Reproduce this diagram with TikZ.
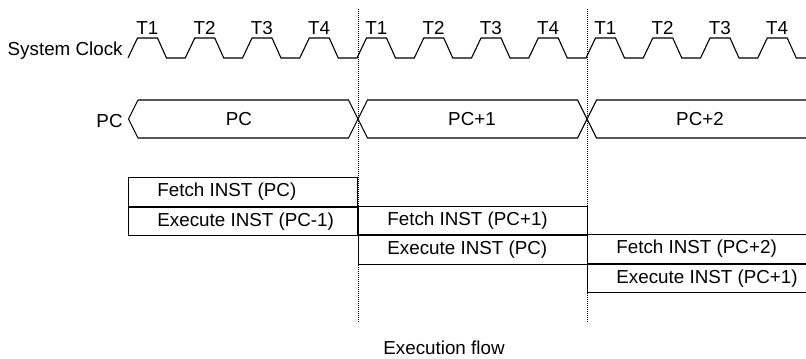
\documentclass[tikz,border=0pt]{standalone}
\usepackage{fontspec}
\setmainfont{Liberation Sans}
\usepackage{tikz}
\usetikzlibrary{positioning}

\tikzset{
  wave/.style={line width=0.55pt, line join=miter},
  marker/.style={line width=0.4pt, dash pattern=on 0.5pt off 0.5pt},
  cell/.style={draw, line width=0.55pt, anchor=north west, inner sep=0pt,
               minimum width=114.5pt, minimum height=14.25pt},
  celltext/.style={inner sep=0pt},
}

\begin{document}
\begin{tikzpicture}[x=0.5pt, y=-0.5pt,
    every node/.style={font=\fontsize{9.4}{11}\selectfont}]
  \clip (0,0) rectangle (806,358);

  % Clock signal
  \node[anchor=east, inner sep=0pt] (clk) at (123,51) {System Clock};
  \draw[wave] (128,58) \foreach \i in {0,...,11} {
      -- ++(9.5,-20) -- ++(20,0) -- ++(9,20) -- ++(18.75,0) };
  \foreach \i [evaluate=\i as \x using {147.25+57.25*\i},
               evaluate=\i as \n using {int(mod(\i,4)+1)}] in {0,...,11}
    \node[inner sep=0pt] (t\i) at (\x,28) {T\n};

  % Program counter bus
  \node[anchor=east, inner sep=0pt] (pclabel) at (123,121) {PC};
  \draw[wave] (138,100) -- (128.5,119) -- (138,138);
  \draw[wave] (138,100) -- (348.5,100) -- (367.5,138) -- (577.5,138) -- (596.5,100) -- (816,100);
  \draw[wave] (138,138) -- (348.5,138) -- (367.5,100) -- (577.5,100) -- (596.5,138) -- (816,138);
  \node (pc0) at (239,119) {PC};
  \node (pc1) at (472,119) {PC+1};
  \node (pc2) at (700,119) {PC+2};

  % Cycle boundaries
  \draw[marker] (358,9) -- (358,322);
  \draw[marker] (587,9) -- (587,322);

  % Pipeline stages
  \node[cell] (fetchA) at (128,177) {};
  \node[cell, below=0pt of fetchA] (execA) {};
  \node[cell] (fetchB) at (358,205.5) {};
  \node[cell, below=0pt of fetchB] (execB) {};
  \node[cell] (fetchC) at (587,234) {};
  \node[cell, below=0pt of fetchC] (execC) {};

  \node[celltext, right=14.5pt of fetchA.west] {Fetch INST (PC)};
  \node[celltext, right=14.5pt of execA.west] {Execute INST (PC-1)};
  \node[celltext, right=14.5pt of fetchB.west] {Fetch INST (PC+1)};
  \node[celltext, right=14.5pt of execB.west] {Execute INST (PC)};
  \node[celltext, right=14.5pt of fetchC.west] {Fetch INST (PC+2)};
  \node[celltext, right=14.5pt of execC.west] {Execute INST (PC+1)};

  \node (flow) at (444,348) {Execution flow};
\end{tikzpicture}
\end{document}
